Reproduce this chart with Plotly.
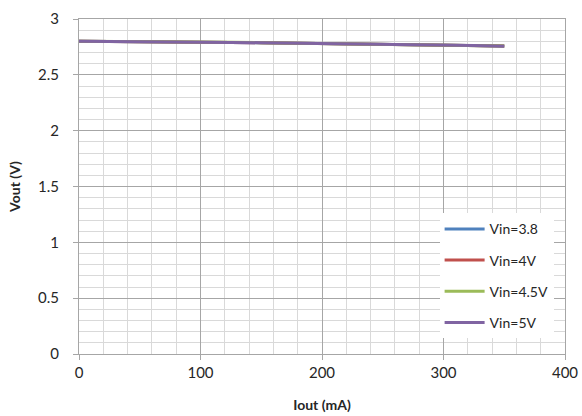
import plotly.graph_objects as go

iout = [0, 25, 50, 75, 100, 125, 150, 175, 200, 225, 250, 275, 300, 325, 350]
vin38 = [2.800, 2.799, 2.797, 2.794, 2.792, 2.790, 2.787, 2.784, 2.782, 2.779, 2.776, 2.772, 2.768, 2.763, 2.758]
vin4 = [2.801, 2.800, 2.797, 2.795, 2.792, 2.790, 2.788, 2.785, 2.782, 2.779, 2.776, 2.773, 2.768, 2.763, 2.758]
vin45 = [2.801, 2.800, 2.798, 2.795, 2.793, 2.791, 2.788, 2.785, 2.783, 2.780, 2.777, 2.773, 2.769, 2.764, 2.759]
vin5 = [2.801, 2.800, 2.798, 2.795, 2.793, 2.790, 2.788, 2.785, 2.782, 2.780, 2.776, 2.772, 2.768, 2.762, 2.757]
names = ["Vin=3.8", "Vin=4V", "Vin=4.5V", "Vin=5V"]
colors = ["#4F81BD", "#C0504D", "#9BBB59", "#8064A2"]

fig = go.Figure()
for i, (nm, ys, c) in enumerate(zip(names, [vin38, vin4, vin45, vin5], colors)):
    fig.add_trace(go.Scatter(x=iout, y=ys, mode="lines", name=nm, legendgroup=nm,
                             line=dict(color=c, width=3)))

fig.update_layout(
    width=582, height=416,
    margin=dict(l=79, r=17, t=19, b=62),
    paper_bgcolor="white", plot_bgcolor="white",
    font=dict(family="Lato, Open Sans, sans-serif", size=14, color="#262626"),
    showlegend=True,
    legend=dict(x=0.742, y=0.42, xanchor="left", yanchor="top", bgcolor="white",
                tracegroupgap=10, itemwidth=40, font=dict(size=14, color="#262626")),
    xaxis=dict(range=[0, 400], dtick=100, showgrid=True, gridcolor="#a6a6a6", gridwidth=1,
               minor=dict(dtick=20, showgrid=True, gridcolor="#d9d9d9", gridwidth=1),
               showline=True, linecolor="#a6a6a6", mirror=True, ticks="outside",
               ticklen=5, tickcolor="#a6a6a6", zeroline=False, automargin=False,
               tickfont=dict(size=15),
               title=dict(text="<b>Iout (mA)</b>", font=dict(size=14), standoff=20)),
    yaxis=dict(range=[0, 3], dtick=0.5, showgrid=True, gridcolor="#a6a6a6", gridwidth=1,
               minor=dict(dtick=0.1, showgrid=True, gridcolor="#d9d9d9", gridwidth=1),
               showline=True, linecolor="#a6a6a6", mirror=True, ticks="outside",
               ticklen=5, tickcolor="#a6a6a6", zeroline=False, automargin=False,
               tickfont=dict(size=15), ticklabelstandoff=11,
               title=dict(text="<b>Vout (V)</b>", font=dict(size=14), standoff=14)),
)

fig.write_html("out.html", config={"displayModeBar": False},
               post_script="document.body.style.margin='0';document.body.style.overflow='hidden';")
